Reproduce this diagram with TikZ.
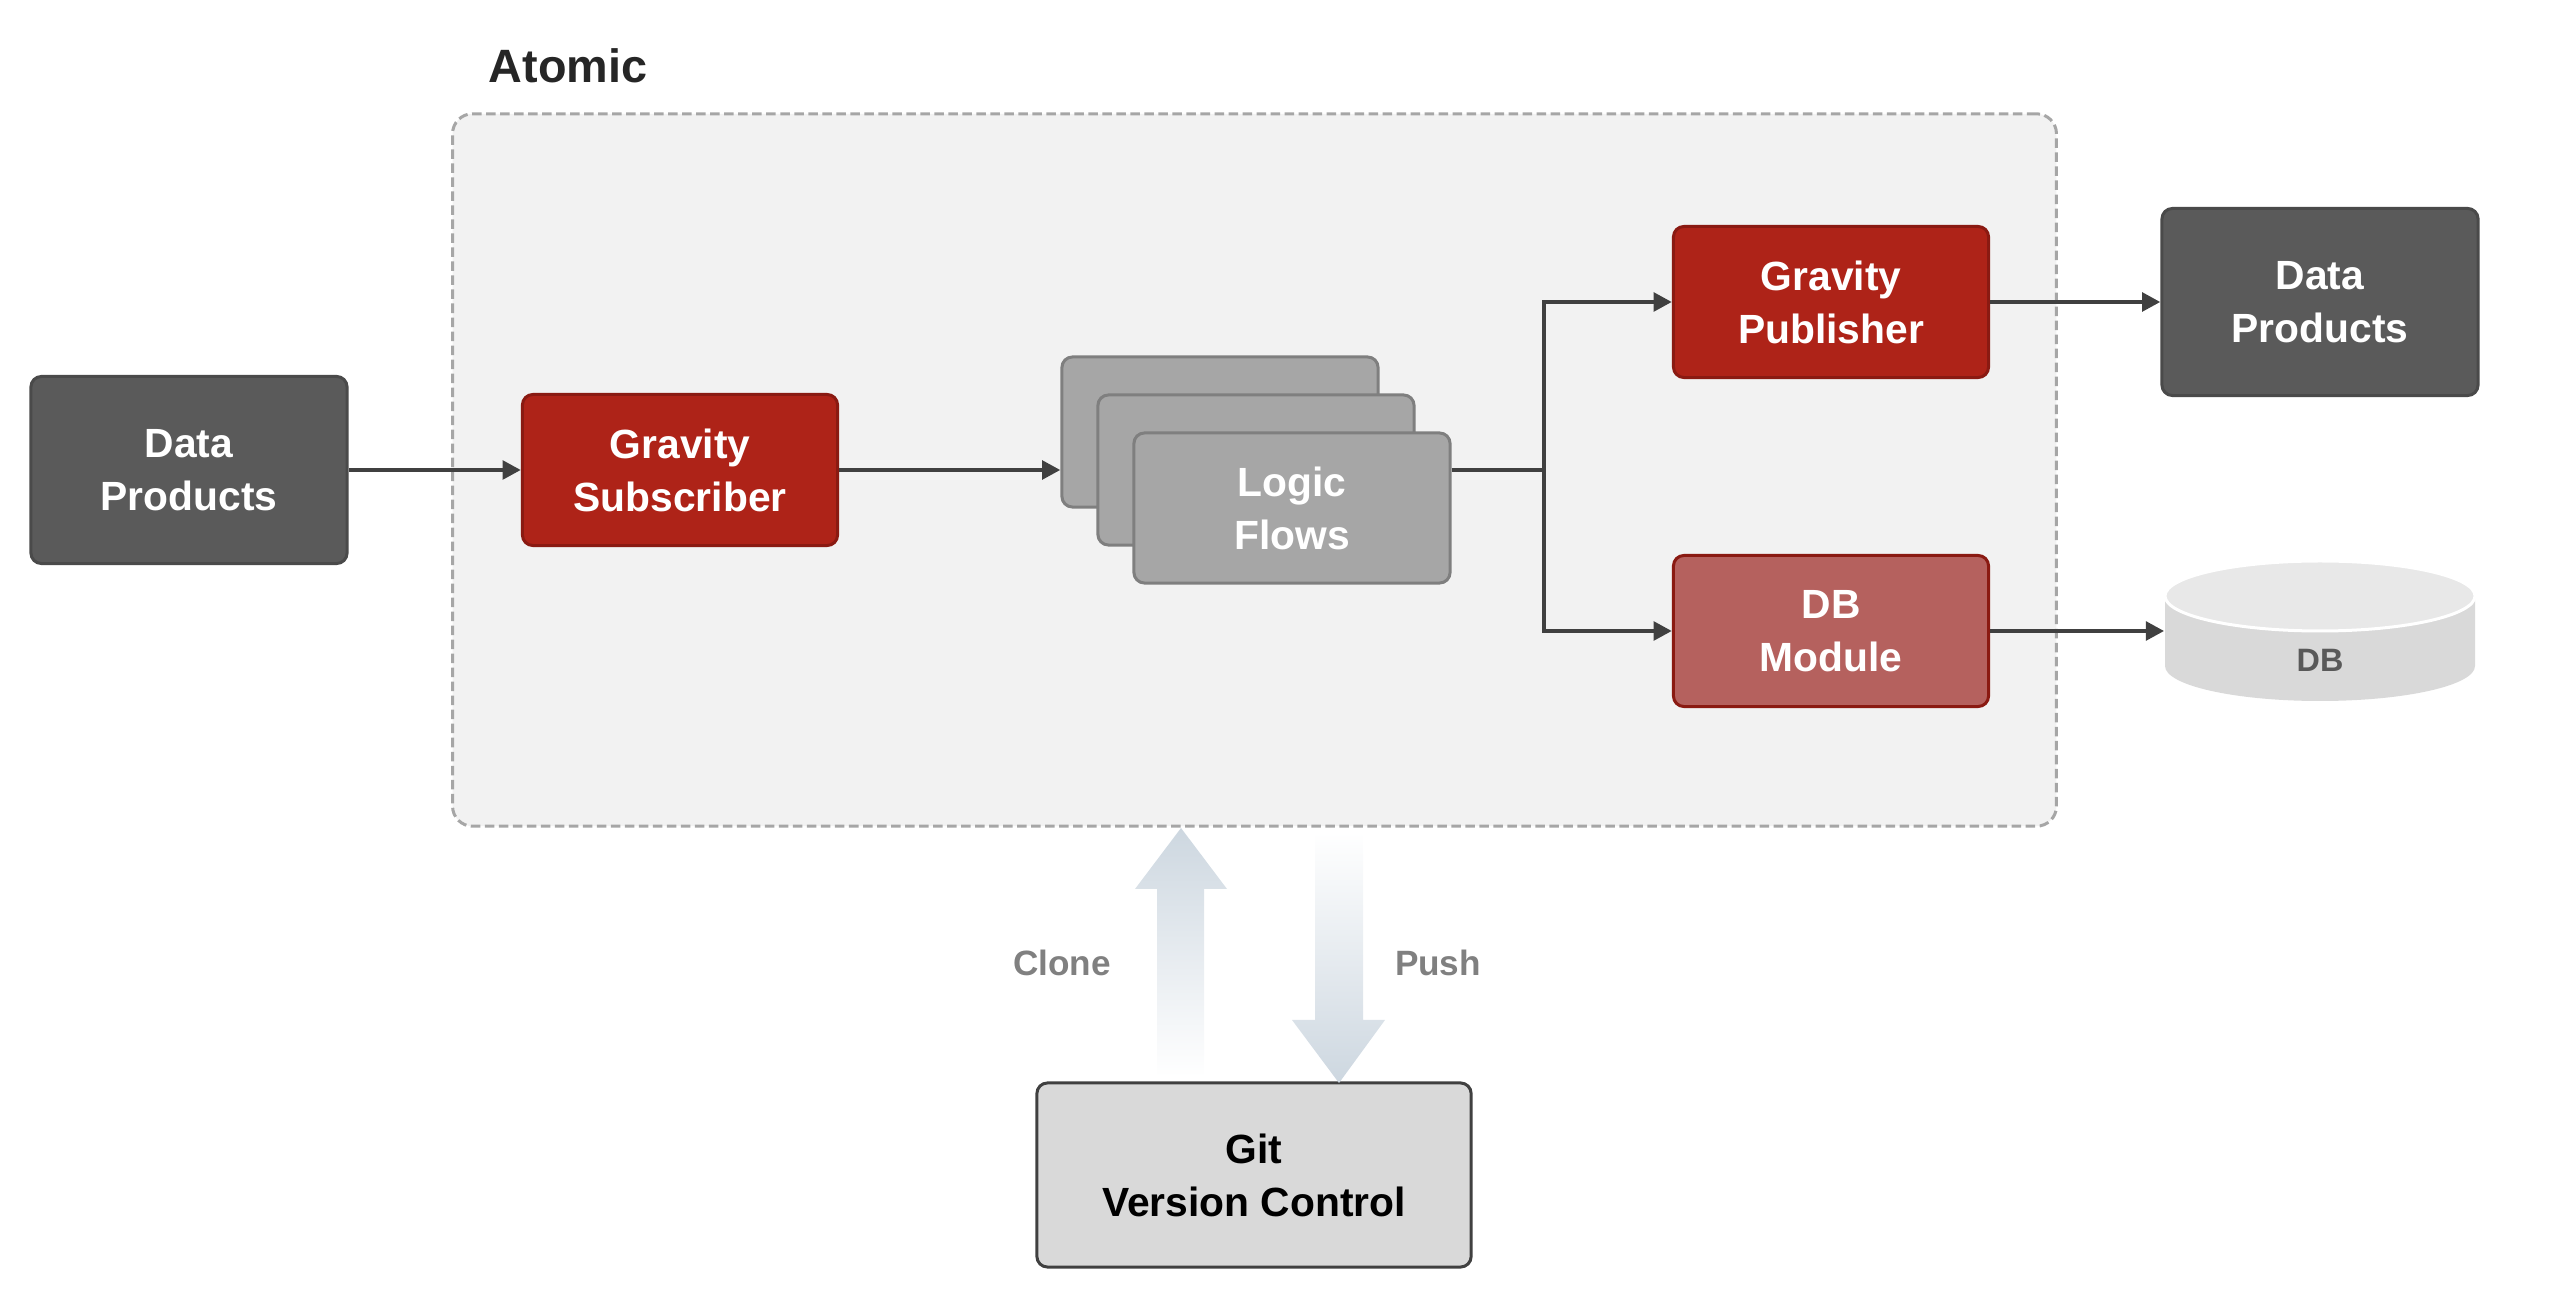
\documentclass[tikz,border=0pt]{standalone}
\usepackage{fontspec}
\setmainfont{Liberation Sans}
\usetikzlibrary{arrows.meta,calc}
\definecolor{redbox}{HTML}{AE2318}
\definecolor{redborder}{HTML}{8A1A12}
\definecolor{dbmfill}{HTML}{B5615E}
\definecolor{darkbox}{HTML}{5A5A5A}
\definecolor{darkborder}{HTML}{4A4A4A}
\definecolor{logicfill}{HTML}{A6A6A6}
\definecolor{logicborder}{HTML}{7F7F7F}
\definecolor{contfill}{HTML}{F2F2F2}
\definecolor{contborder}{HTML}{A6A6A6}
\definecolor{conncol}{HTML}{404040}
\definecolor{gitfill}{HTML}{D9D9D9}
\definecolor{arrowcol}{HTML}{CDD7E0}
\definecolor{dbtop}{HTML}{E8E8E8}
\definecolor{dbbody}{HTML}{D9D9D9}
\definecolor{labelgray}{HTML}{808080}
\definecolor{dbtext}{HTML}{595959}
\tikzset{
  box/.style={rectangle, rounded corners=3pt, line width=0.03cm, align=center,
    font=\fontsize{11.6}{15.1}\selectfont\bfseries, text=white, inner sep=0pt},
  redb/.style={box, fill=redbox, draw=redborder, minimum width=3.15cm, minimum height=1.51cm},
  dbmb/.style={box, fill=dbmfill, draw=redborder, minimum width=3.15cm, minimum height=1.51cm},
  darkb/.style={box, fill=darkbox, draw=darkborder, minimum width=3.16cm, minimum height=1.87cm},
  logicb/.style={box, fill=logicfill, draw=logicborder, minimum width=3.16cm, minimum height=1.50cm},
  gitb/.style={box, fill=gitfill, draw=conncol, text=black, minimum width=4.34cm, minimum height=1.84cm},
  container/.style={rectangle, rounded corners=0.2cm, fill=contfill, draw=contborder,
    line width=0.03cm, dash pattern=on 0.095cm off 0.045cm, minimum width=16.03cm, minimum height=7.12cm},
  conn/.style={draw=conncol, line width=0.045cm, -{Triangle[length=5.2pt,width=5.2pt]}},
  plainline/.style={draw=conncol, line width=0.045cm},
  lbl/.style={font=\fontsize{10}{12}\selectfont\bfseries, text=labelgray, inner sep=0pt},
}
\begin{document}
\begin{tikzpicture}[x=0.01cm,y=-0.01cm]
\useasboundingbox (0,0) rectangle (2554,1292);
% container
\node[container] (atomic) at (1254.5,470) {};
\node[anchor=west, inner sep=0pt, font=\fontsize{13.3}{16}\selectfont\bfseries, text=black!85] (atomiclbl) at (488,66) {Atomic};
% nodes
\node[darkb] (dpL) at (189,470) {Data\\Products};
\node[redb] (gs) at (680,470) {Gravity\\Subscriber};
\node[logicb] (lf1) at (1220,432) {};
\node[logicb] (lf2) at (1256,470) {};
\node[logicb] (lf3) at (1292,508) {Logic\\Flows};
\node[redb] (gp) at (1831,302) {Gravity\\Publisher};
\node[dbmb] (dbm) at (1831,631) {DB\\Module};
\node[darkb] (dpR) at (2320,302) {Data\\Products};
% DB cylinder
\fill[dbbody] (2165,596) -- (2165,666) arc[start angle=180, end angle=0, x radius=155, y radius=35] -- (2475,596) -- cycle;
\draw[white, line width=0.03cm, fill=dbtop] (2320,596) ellipse[x radius=155, y radius=35];
\node[inner sep=0pt, minimum width=3.10cm, minimum height=1.40cm] (db) at (2320,631) {};
\node[font=\fontsize{9.2}{11}\selectfont\bfseries, text=dbtext, inner sep=0pt] (dblbl) at (2320,660) {DB};
% Git
\node[gitb] (git) at (1254,1175) {Git\\Version Control};
% connectors
\coordinate (split) at (1544,470);
\draw[conn] (dpL) -- (gs);
\draw[conn] (gs.east) -- (gs.east -| lf1.west);
\draw[plainline] (lf3.east |- lf2.center) -- (split);
\draw[conn] (split) |- (gp.west);
\draw[conn] (split) |- (dbm.west);
\draw[conn] (gp) -- (dpR);
\draw[conn] (dbm) -- (db.west);
% clone / push arrows
\shade[top color=arrowcol, bottom color=white]
  (1157,1077) -- (1157,889) -- (1135,889) -- (1181,828) -- (1227,889) -- (1204,889) -- (1204,1077) -- cycle;
\shade[top color=white, bottom color=arrowcol]
  (1315,832) -- (1315,1020) -- (1292,1020) -- (1339,1083) -- (1385,1020) -- (1363,1020) -- (1363,832) -- cycle;
\node[lbl] (clone) at (1062,963) {Clone};
\node[lbl] (push) at (1438,963) {Push};
\end{tikzpicture}
\end{document}
